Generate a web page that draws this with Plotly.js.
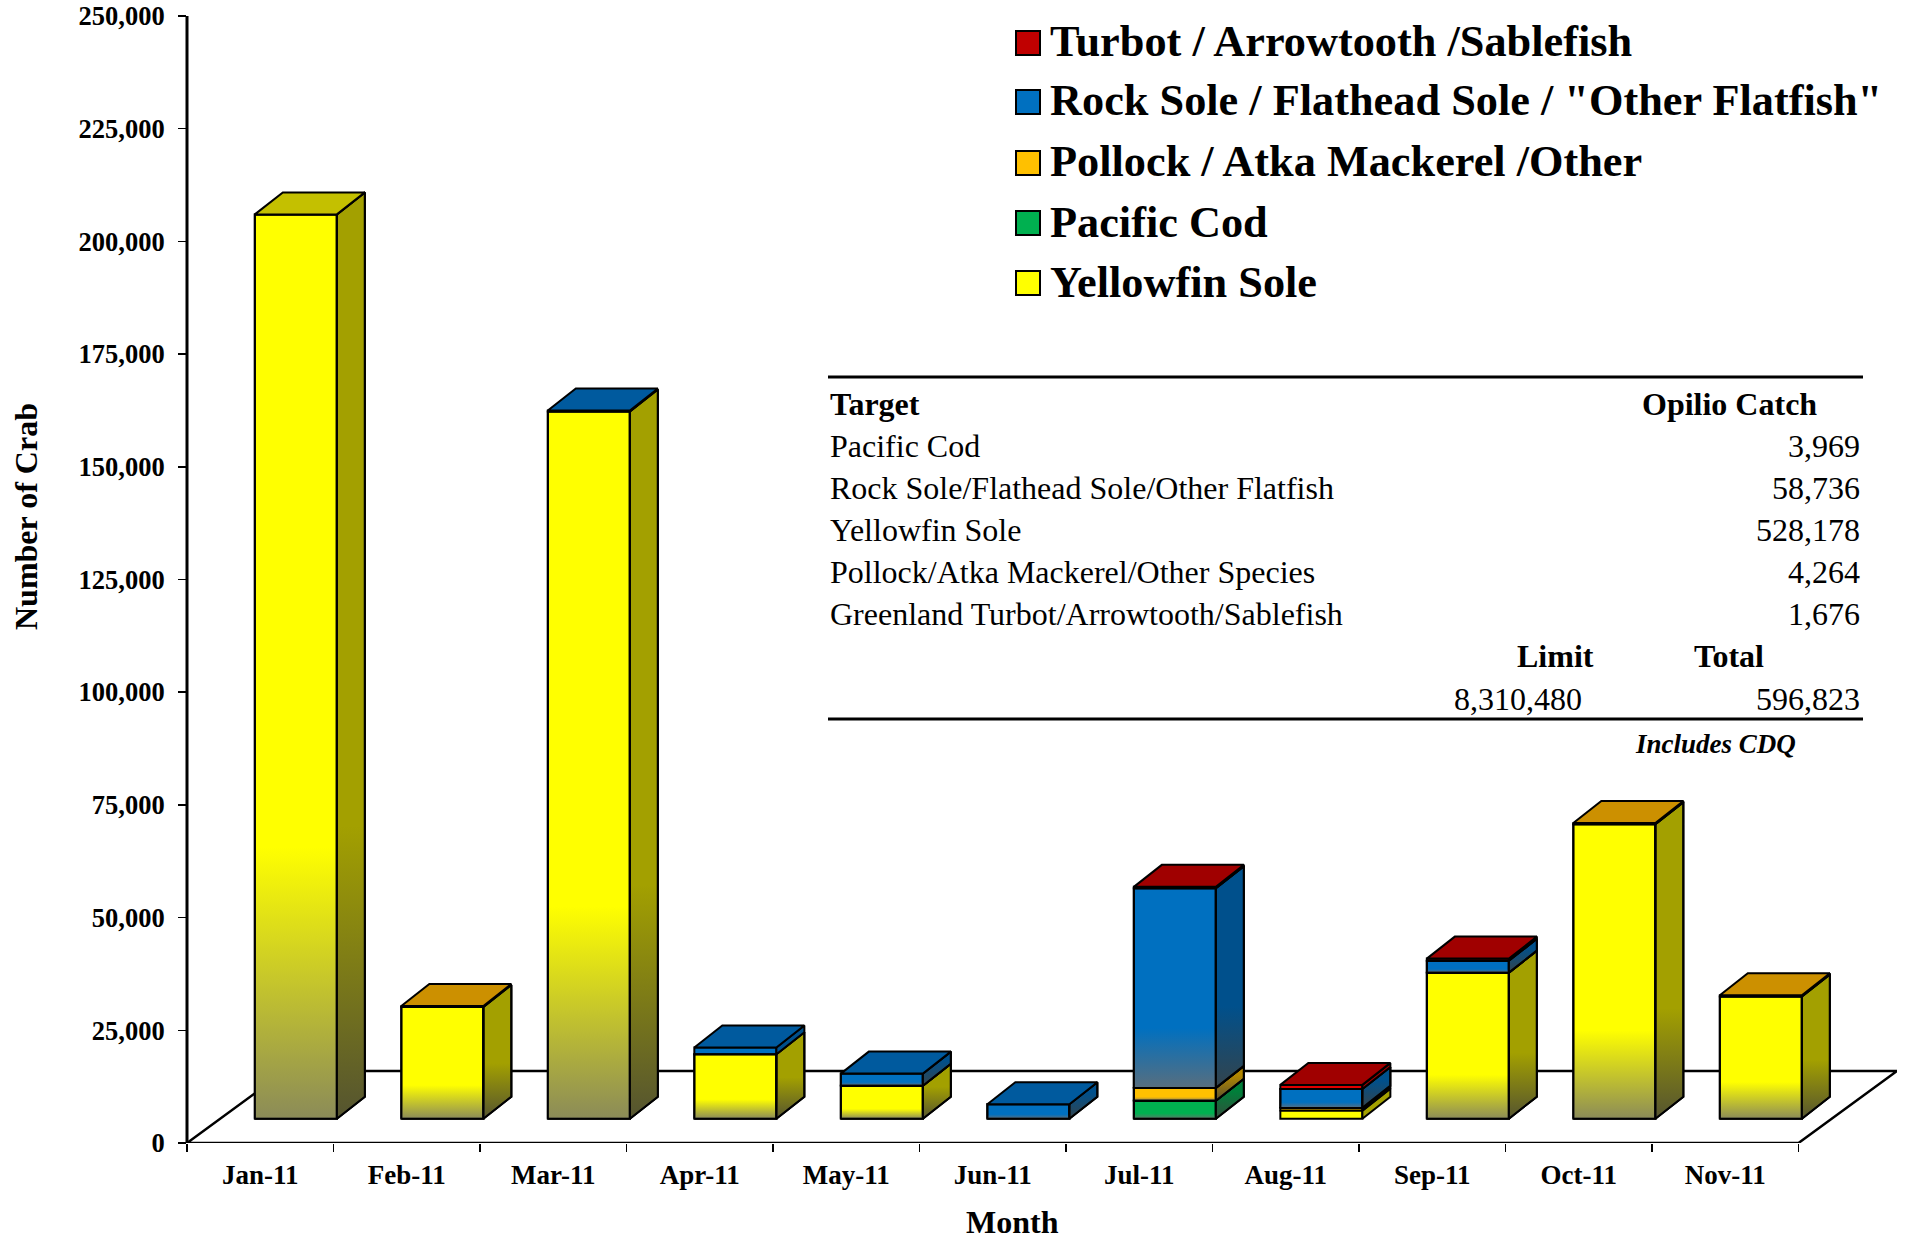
<!DOCTYPE html>
<html><head><meta charset="utf-8">
<script src="https://cdn.plot.ly/plotly-3.0.1.min.js"></script>
<style>html,body{margin:0;padding:0;background:#fff}</style></head>
<body><div id="chart" style="width:1907px;height:1239px"></div>
<script>
var months = ["Jan-11","Feb-11","Mar-11","Apr-11","May-11","Jun-11","Jul-11","Aug-11","Sep-11","Oct-11","Nov-11"];
var yellowfin = [200600,24800,156900,14300,7300,null,null,1800,32400,65300,27100];
var cod       = [null,null,null,null,null,null,3969,null,null,null,null];
var pollock   = [null,200,null,null,null,null,2864,600,null,300,300];
var rockSole  = [null,null,200,1500,2700,3200,44300,4200,2636,null,null];
var turbot    = [null,null,null,null,null,null,300,900,476,null,null];
var yTicks = [0,25000,50000,75000,100000,125000,150000,175000,200000,225000,250000];

var legendNames = ["Turbot / Arrowtooth /Sablefish","Rock Sole / Flathead Sole / \"Other Flatfish\"","Pollock / Atka Mackerel /Other","Pacific Cod","Yellowfin Sole"];
var legendColors = ["#C00000","#0070C0","#FFC000","#00B050","#FFFF00"];
var tableTargets = ["Pacific Cod","Rock Sole/Flathead Sole/Other Flatfish","Yellowfin Sole","Pollock/Atka Mackerel/Other Species","Greenland Turbot/Arrowtooth/Sablefish"];
var tableCatches = ["3,969","58,736","528,178","4,264","1,676"];

var series = [
 {name:"Yellowfin Sole", v:yellowfin, front:"#FFFF00", side:"#A3A000", top:"#C4C000"},
 {name:"Pacific Cod", v:cod, front:"#00B050", side:"#007F3A", top:"#008040"},
 {name:"Pollock / Atka Mackerel /Other", v:pollock, front:"#FFC000", side:"#B38800", top:"#CC9000"},
 {name:"Rock Sole / Flathead Sole / \"Other Flatfish\"", v:rockSole, front:"#0070C0", side:"#00508C", top:"#005A9E"},
 {name:"Turbot / Arrowtooth /Sablefish", v:turbot, front:"#E00000", side:"#A00000", top:"#A00000"}
];

var FONT = "'Liberation Serif','Times New Roman',serif";
var L=187, R=1897, T=16, B=1143, CAT=146.5;
var yPerPx = 250000/(B-T);
var xMax = (R-L)/CAT;
var floorBase = 24.3*yPerPx, barW = 0.56, barCenter = 0.743;
var depthX = 28/CAT, depthY = 22*yPerPx;
var floorX = 98.5/CAT, floorY = 72*yPerPx;

var traces = [];
var cum = months.map(function(){return floorBase;});
var tops = months.map(function(){return null;});
var polys = [];

series.forEach(function(s){
  var base = cum.slice();
  traces.push({type:"bar", name:s.name, x:months.map(function(m,i){return i+barCenter;}), y:s.v, base:base,
    width:barW, marker:{color:s.front, line:{color:"#000",width:2}}, showlegend:false, hoverinfo:"name+y"});
  s.v.forEach(function(val,i){
    if(val===null) return;
    var b=cum[i], t=b+val, l=i+barCenter-barW/2, r=l+barW;
    polys.push({type:"scatter",mode:"lines",x:[r,r+depthX,r+depthX,r,r],y:[b,b+depthY,t+depthY,t,b],fill:"toself",fillcolor:s.side,
      line:{color:"#000",width:2},showlegend:false,hoverinfo:"skip"});
    if(val>=2500){
      var stop=b+0.3*val;
      polys.push({type:"scatter",mode:"lines",x:[l,r,r,l,l],y:[b,b,t,t,b],fill:"toself",
        fillgradient:{type:"vertical",start:b,stop:stop,colorscale:[[0,"rgba(110,110,110,0.8)"],[1,"rgba(110,110,110,0)"]]},
        line:{color:"#000",width:2},showlegend:false,hoverinfo:"skip"});
      polys.push({type:"scatter",mode:"lines",x:[r,r+depthX,r+depthX,r,r],y:[b,b+depthY,t+depthY,t,b],fill:"toself",
        fillgradient:{type:"vertical",start:b,stop:stop+depthY,colorscale:[[0,"rgba(65,65,60,0.8)"],[1,"rgba(65,65,60,0)"]]},
        line:{color:"#000",width:2},showlegend:false,hoverinfo:"skip"});
    }
    cum[i]=t; tops[i]=s.top;
  });
});
months.forEach(function(m,i){
  var t=cum[i], l=i+barCenter-barW/2, r=l+barW;
  polys.push({type:"scatter",mode:"lines",x:[l,r,r+depthX,l+depthX,l],y:[t,t,t+depthY,t+depthY,t],fill:"toself",fillcolor:tops[i],
    line:{color:"#000",width:2},showlegend:false,hoverinfo:"skip"});
});
traces = traces.concat(polys);

function px(x){return (x-L)/(R-L);}
function py(y){return (B-y)/(B-T);}
var ann=[], shapes=[];
function text(t,x,y,o){
  o=o||{};
  ann.push({text:t,xref:"paper",yref:"paper",x:px(x),y:py(y),xanchor:o.a||"left",yanchor:"middle",showarrow:false,textangle:o.rot||0,
    font:{family:FONT,size:o.size||32,color:"#000"},align:o.a||"left"});
}
function bold(s){return "<b>"+s+"</b>";}

// y axis line and floor of the pseudo-3D chart
shapes.push({type:"line",xref:"paper",yref:"paper",x0:0,x1:0,y0:0,y1:1,line:{color:"#000",width:3}});
shapes.push({type:"path",xref:"x",yref:"y",layer:"below",
  path:"M 0 0 L 11 0 L "+(11+floorX)+" "+floorY+" L "+floorX+" "+floorY+" Z",
  fillcolor:"#fff",line:{color:"#000",width:2.5}});

// legend
var legY=[42,101,162,222,282];
legendNames.forEach(function(n,i){
  shapes.push({type:"rect",xref:"paper",yref:"paper",x0:px(1016),x1:px(1040),y0:py(legY[i]+13),y1:py(legY[i]-11),
    fillcolor:legendColors[i],line:{color:"#000",width:2}});
  text(bold(n),1048,legY[i],{size:44.3});
});

// table
[377,719].forEach(function(y){
  shapes.push({type:"line",xref:"paper",yref:"paper",x0:px(828),x1:px(1863),y0:py(y),y1:py(y),line:{color:"#000",width:3}});
});
text(bold("Target"),828,404);
text(bold("Opilio Catch"),1818.5,404,{a:"right"});
var rowY=[446,488,530,572,614];
tableTargets.forEach(function(n,i){
  text(n,828,rowY[i]);
  text(tableCatches[i],1862,rowY[i],{a:"right"});
});
text(bold("Limit"),1596,656,{a:"right"});
text(bold("Total"),1765.5,656,{a:"right"});
text("8,310,480",1583.5,699,{a:"right"});
text("596,823",1862,699,{a:"right"});
text("<b><i>Includes CDQ</i></b>",1633,744,{size:27});

// axis titles
text(bold("Number of Crab"),26,517,{a:"center",size:32,rot:-90});
text(bold("Month"),1012,1222,{a:"center",size:32});

var layout = {
  width:1907,height:1239,autosize:false,
  margin:{l:L,r:1907-R,t:T,b:1239-B,pad:0},
  paper_bgcolor:"#fff",plot_bgcolor:"rgba(0,0,0,0)",
  barmode:"overlay",showlegend:false,
  font:{family:FONT,color:"#000"},
  xaxis:{type:"linear",range:[0,xMax],showgrid:false,zeroline:false,showline:false,
    tickmode:"array",tickvals:months.map(function(m,i){return i+0.5;}),ticktext:months.map(bold),ticks:"",
    tickfont:{family:FONT,size:27,color:"#000"},ticklabelstandoff:13,
    minor:{tickmode:"array",tickvals:months.map(function(m,i){return i;}).concat([11]),ticks:"outside",ticklen:8,tickwidth:1.5,tickcolor:"#000",showgrid:false}},
  yaxis:{type:"linear",range:[0,250000],showgrid:false,zeroline:false,showline:false,
    tickmode:"array",tickvals:yTicks,ticktext:yTicks.map(function(v){return bold(v.toLocaleString("en-US"));}),
    ticks:"outside",ticklen:8,tickwidth:1.5,tickcolor:"#000",tickfont:{family:FONT,size:26.5,color:"#000"},ticklabelstandoff:8},
  annotations:ann,shapes:shapes
};
Plotly.newPlot("chart",traces,layout,{displayModeBar:false,staticPlot:true});
</script></body></html>
